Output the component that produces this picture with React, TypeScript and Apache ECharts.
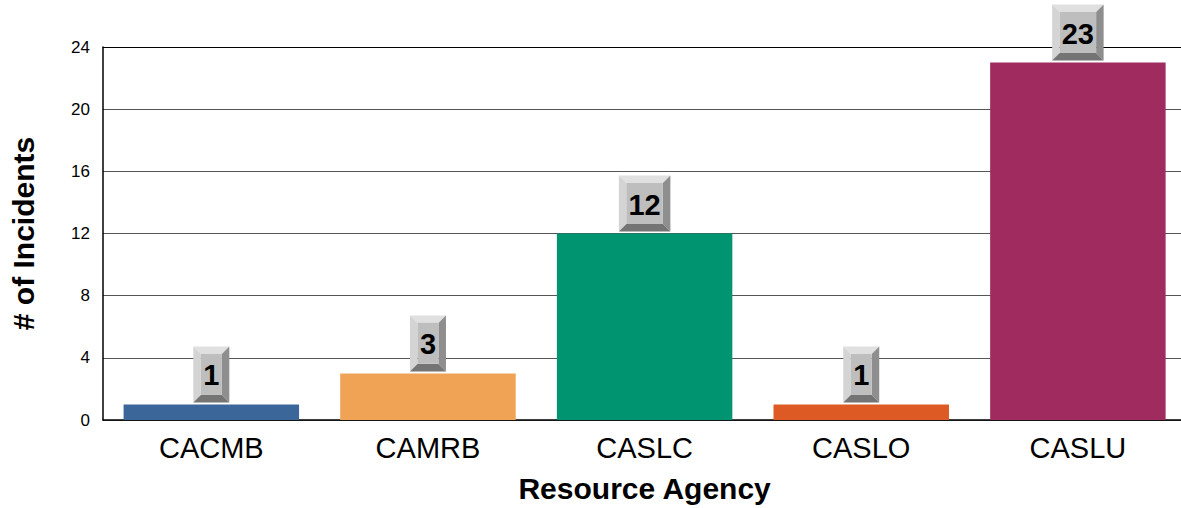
import React, { useEffect, useRef } from "react";
import * as echarts from "echarts";

const categories = ["CACMB", "CAMRB", "CASLC", "CASLO", "CASLU"];
const incidents = [1, 3, 12, 1, 23];
const barColors = ["#3a6699", "#f0a355", "#009471", "#dd5a24", "#a02c5f"];
const yTicks = [0, 4, 8, 12, 16, 20, 24];

export default function App() {
  const ref = useRef<HTMLDivElement>(null);
  useEffect(() => {
    const chart = echarts.init(ref.current!, null, { renderer: "svg" });
    const font = "'Liberation Sans', Arial, sans-serif";
    chart.setOption({
      animation: false,
      textStyle: { fontFamily: font },
      grid: { left: 102.6, top: 47, width: 1083.6, height: 374, containLabel: false },
      xAxis: [
        {
          type: "category",
          data: categories,
          axisLine: { lineStyle: { color: "#000", width: 1.5 } },
          axisTick: { show: false },
          axisLabel: { fontSize: 29, color: "#000", margin: 13, fontFamily: font },
          name: "Resource Agency",
          nameLocation: "middle",
          nameGap: 53,
          nameTextStyle: { fontSize: 30, fontWeight: "bold", color: "#000", fontFamily: font },
        },
        {
          type: "category",
          position: "top",
          data: categories,
          axisLine: { show: true, lineStyle: { color: "#000", width: 1 } },
          axisTick: { show: false },
          axisLabel: { show: false },
        },
      ],
      yAxis: {
        type: "value",
        min: yTicks[0],
        max: yTicks[yTicks.length - 1],
        interval: 4,
        axisLine: { show: true, lineStyle: { color: "#000", width: 1.5 } },
        axisTick: { show: false },
        axisLabel: { fontSize: 17, color: "#000", margin: 13, fontFamily: font },
        splitLine: { lineStyle: { color: "#555", width: 1 } },
        name: "# of Incidents",
        nameLocation: "middle",
        nameGap: 65,
        nameTextStyle: { fontSize: 30, fontWeight: "bold", color: "#000", fontFamily: font },
      },
      series: [
        {
          type: "bar",
          barCategoryGap: "19%",
          data: incidents.map((v, i) => ({ value: v, itemStyle: { color: barColors[i] } })),
          z: 2,
        },
        {
          type: "custom",
          z: 5,
          data: incidents.map((v, i) => [i, v]),
          renderItem: (params: any, api: any) => {
            const idx = api.value(0);
            const val = api.value(1);
            const p = api.coord([idx, val]);
            const txt = String(val);
            const w = txt.length * 15.5 + 20.5;
            const h = 56;
            const b = 7.5;
            const x0 = p[0] - w / 2;
            const x1 = p[0] + w / 2;
            const y1 = p[1] - 2;
            const y0 = y1 - h;
            return {
              type: "group",
              children: [
                { type: "polygon", shape: { points: [[x0, y0], [x1, y0], [x1 - b, y0 + b], [x0 + b, y0 + b]] }, style: { fill: "#e0e0e0" } },
                { type: "polygon", shape: { points: [[x0, y0], [x0 + b, y0 + b], [x0 + b, y1 - b], [x0, y1]] }, style: { fill: "#d4d4d4" } },
                { type: "polygon", shape: { points: [[x1, y0], [x1, y1], [x1 - b, y1 - b], [x1 - b, y0 + b]] }, style: { fill: "#8e8e8e" } },
                { type: "polygon", shape: { points: [[x0, y1], [x0 + b, y1 - b], [x1 - b, y1 - b], [x1, y1]] }, style: { fill: "#747474" } },
                { type: "rect", shape: { x: x0 + b, y: y0 + b, width: w - 2 * b, height: h - 2 * b }, style: { fill: "#bebebe" } },
                {
                  type: "text",
                  style: {
                    text: txt,
                    x: p[0],
                    y: (y0 + y1) / 2 + 1,
                    align: "center",
                    verticalAlign: "middle",
                    fontSize: 29,
                    fontWeight: "bold",
                    fontFamily: font,
                    fill: "#000",
                  },
                },
              ],
            };
          },
        },
      ],
    });
    return () => chart.dispose();
  }, []);
  return (
    <div
      ref={ref}
      style={{ position: "absolute", left: 0, top: 0, width: 1195, height: 508, background: "#fff" }}
    />
  );
}
